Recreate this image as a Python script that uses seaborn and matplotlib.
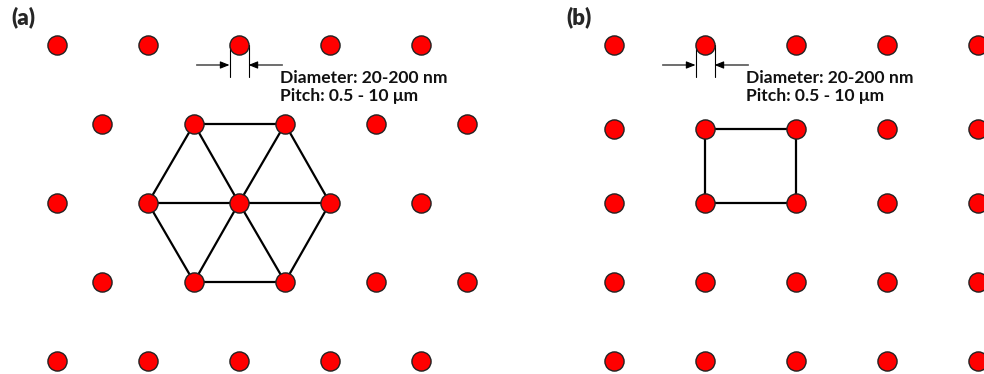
import numpy as np
import pandas as pd
import matplotlib
matplotlib.use("Agg")
import matplotlib.pyplot as plt
import seaborn as sns

# Lattice site positions (pixel units of the canvas)
hex_rows_y = [45, 124, 203, 282, 361]
hex_cols_even_x = [57, 148, 239, 330, 421]
hex_cols_odd_x = [102, 194, 285, 376, 467]
sq_cols_x = [614, 705, 796, 887, 978]
sq_rows_y = [45, 129, 203, 282, 361]

panel_labels = ["(a)", "(b)"]
spec_lines = ["Diameter: 20-200 nm", "Pitch: 0.5 - 10 μm"]

# Build a tidy table of all dot sites
rows = []
for i, y in enumerate(hex_rows_y):
    xs = hex_cols_even_x if i % 2 == 0 else hex_cols_odd_x
    for x in xs:
        rows.append(("hex", x, y))
for y in sq_rows_y:
    for x in sq_cols_x:
        rows.append(("square", x, y))
df = pd.DataFrame(rows, columns=["lattice", "x", "y"])

sns.set_theme(style="white")
plt.rcParams["font.family"] = ["Lato", "DejaVu Sans"]

fig = plt.figure(figsize=(9.84, 3.74), dpi=100)
ax = fig.add_axes([0, 0, 1, 1])

line_kw = dict(color="black", lw=1.6, zorder=1, solid_capstyle="butt")

# Hexagonal unit: centre plus its six nearest neighbours
cx, cy = hex_cols_even_x[2], hex_rows_y[2]
ring = [
    (hex_cols_odd_x[1], hex_rows_y[1]),
    (hex_cols_odd_x[2], hex_rows_y[1]),
    (hex_cols_even_x[3], hex_rows_y[2]),
    (hex_cols_odd_x[2], hex_rows_y[3]),
    (hex_cols_odd_x[1], hex_rows_y[3]),
    (hex_cols_even_x[1], hex_rows_y[2]),
]
for k in range(6):
    x0, y0 = ring[k]
    x1, y1 = ring[(k + 1) % 6]
    ax.plot([x0, x1], [y0, y1], **line_kw)
    ax.plot([cx, x0], [cy, y0], **line_kw)

# Square unit cell
sq = [
    (sq_cols_x[1], sq_rows_y[1]),
    (sq_cols_x[2], sq_rows_y[1]),
    (sq_cols_x[2], sq_rows_y[2]),
    (sq_cols_x[1], sq_rows_y[2]),
]
for k in range(4):
    x0, y0 = sq[k]
    x1, y1 = sq[(k + 1) % 4]
    ax.plot([x0, x1], [y0, y1], **line_kw)

# Diameter callouts on one dot of each lattice
r = 9.5
for dx, dy in [(hex_cols_even_x[2], hex_rows_y[0]),
               (sq_cols_x[1], sq_rows_y[0])]:
    for sx in (-r, r):
        ax.plot([dx + sx, dx + sx], [dy, dy + 32], color="black", lw=0.8, zorder=1)
    ay = dy + 20
    akw = dict(arrowstyle="-|>,head_length=0.55,head_width=0.22", color="black",
               lw=0.8, shrinkA=0, shrinkB=0, mutation_scale=10)
    ax.annotate("", xy=(dx - r, ay), xytext=(dx - r - 33, ay), arrowprops=akw)
    ax.annotate("", xy=(dx + r, ay), xytext=(dx + r + 34, ay), arrowprops=akw)
    ax.text(dx + 41, dy + 38, spec_lines[0], fontsize=12.6, fontweight="bold",
            color="#111111", va="baseline", ha="left")
    ax.text(dx + 41, dy + 56, spec_lines[1], fontsize=12.6, fontweight="bold",
            color="#111111", va="baseline", ha="left")

sns.scatterplot(data=df, x="x", y="y", ax=ax, color="#ff0000", s=190,
                edgecolor="#222222", linewidth=1.0, zorder=3, legend=False)
ax.set_xlim(0, 984)
ax.set_ylim(374, 0)
ax.axis("off")

ax.text(11, 24, panel_labels[0], fontsize=16, fontweight="heavy", va="baseline", ha="left")
ax.text(566, 24, panel_labels[1], fontsize=16, fontweight="heavy", va="baseline", ha="left")

fig.savefig("out.png", dpi=100, facecolor="white")
